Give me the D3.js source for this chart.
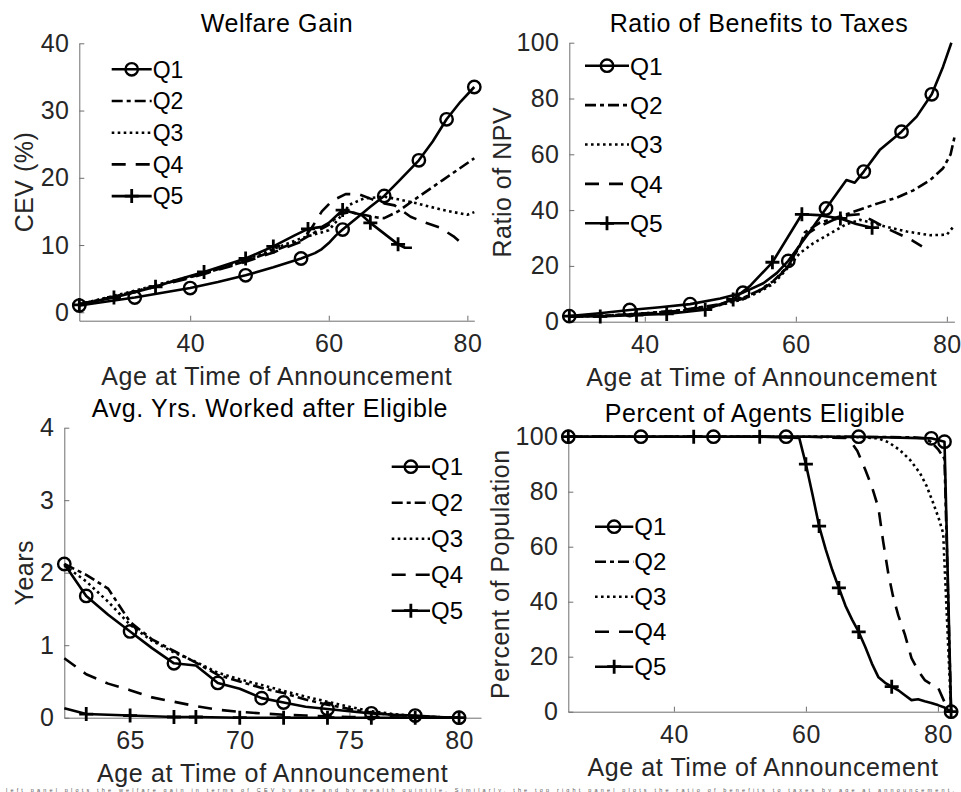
<!DOCTYPE html>
<html lang="en">
<head>
<meta charset="utf-8">
<title>Welfare gain by quintile</title>
<script src="https://cdn.jsdelivr.net/npm/d3@7"></script>
<style>
  body { margin: 0; background: #fff; }
  svg text { font-family: "Liberation Sans", Arial, sans-serif; }
</style>
</head>
<body>
<svg id="chart" width="961" height="792"></svg>
<script>
// series names, one per wealth quintile
const seriesNames = ["Q1", "Q2", "Q3", "Q4", "Q5"];

// top left: welfare gain, CEV (%)
const welfareQ1 = [[24,1.0],[28,1.6],[32,2.2],[36,2.9],[40,3.6],[44,4.5],[48,5.5],[52,6.7],[56,8.0],[58,8.8],[59,9.4],[60,10.3],[61,11.4],[62,12.3],[64,14.0],[66,15.7],[68,17.3],[70,19.4],[73,22.6],[75,25.4],[77,28.7],[79,31.3],[81,33.5]];
const welfareQ2 = [[24,1.2],[28,2.1],[32,3.1],[36,4.2],[40,5.2],[44,6.4],[48,7.6],[52,9.1],[56,10.7],[58,11.9],[60,13.0],[61.5,14.6],[63,14.9],[65,14.5],[67,14.1],[68,14.0],[70,15.0],[72.7,17.0],[76.5,19.7],[81,22.9]];
const welfareQ3 = [[24,1.2],[28,2.2],[32,3.2],[36,4.3],[40,5.3],[44,6.5],[48,7.8],[52,9.4],[56,11.0],[58,11.6],[60,12.2],[62,14.6],[63,16.0],[65,16.9],[68,17.2],[70,16.8],[72.7,16.2],[76.5,15.2],[80,14.5],[81,14.9]];
const welfareQ4 = [[24,1.2],[28,2.1],[32,3.0],[36,4.1],[40,5.1],[44,6.3],[48,7.5],[52,8.9],[56,10.5],[57.5,12.5],[59,15.0],[60.5,16.6],[62.5,17.6],[64.5,17.5],[66,16.9],[68,16.2],[69.5,15.9],[71.8,14.2],[74,13.3],[76,12.6],[78,11.3],[79,10.4]];
const welfareQ5 = [[24,1.1],[26.5,1.7],[29,2.2],[32,3.0],[35,3.8],[38,4.8],[42,6.0],[45,7.0],[48,8.0],[50,8.9],[52,9.8],[55,11.4],[57,12.4],[59,12.7],[60,13.3],[62,15.2],[64.7,14.5],[66,13.3],[68,11.7],[70,10.1],[71,9.6],[72,9.6]];
const welfareQ1Marks = [24,32,40,48,56,62,68,73,77,81];
const welfareQ5Marks = [24,29,35,42,48,52,57,62,66,70];

// top right: ratio of NPV of benefits to taxes
const ratioQ1 = [[30,2.0],[34,3.0],[38,4.2],[42,5.2],[46,6.3],[50,8.3],[53,10.4],[55.7,13.8],[57.5,17.5],[59,21.8],[61.7,31.7],[64,40.6],[66.7,50.8],[67.8,49.8],[69,53.8],[71.1,61.5],[74,68.1],[76,73.5],[78,81.5],[79.5,91.4],[80.6,100]];
const ratioQ2 = [[30,1.8],[35,2.2],[40,3.0],[45,4.2],[50,6.3],[53,8.5],[55,11.0],[57,14.5],[59,20.0],[60.5,27.0],[61.2,32.0],[63.2,35.5],[66.7,38.5],[68.9,40.6],[71,42.5],[73.4,44.5],[75.5,47.0],[77.8,50.8],[79.5,55.0],[80.5,60.0],[81,66.0]];
const ratioQ3 = [[30,1.8],[35,2.2],[40,3.0],[45,4.0],[50,6.0],[53,8.0],[55,10.5],[57,13.5],[59,19.5],[60.5,24.5],[62.3,28.1],[64.5,31.5],[66.7,35.0],[68.5,36.5],[70,35.5],[72,34.0],[74.7,32.3],[77.8,31.0],[80,31.2],[81,34.5]];
const ratioQ4 = [[30,1.8],[35,2.1],[40,2.9],[45,4.0],[50,6.1],[53,8.2],[55,10.8],[57,14.2],[59,19.8],[60.5,27.5],[61.5,31.5],[63,34.0],[65,36.5],[67,38.2],[68.5,38.5],[70,36.5],[72,33.5],[74,31.0],[75.5,29.0],[76.7,27.0]];
const ratioQ5 = [[30,2.0],[34.1,1.9],[38.9,2.4],[42.9,2.8],[48,4.3],[51.7,8.0],[54,13.0],[56.9,21.3],[60.8,38.5],[63,38.2],[65.9,37.0],[68,35.0],[70.1,33.7]];
const ratioQ1Marks = [30,38,46,53,59,64,69,74,78];
const ratioQ5Marks = [30,34.1,38.9,42.9,48,51.7,56.9,60.8,65.9,70.1];

// bottom left: average years worked after eligible
const yearsQ1 = [[62,2.12],[63,1.68],[64,1.42],[65,1.19],[66,0.96],[67,0.75],[68,0.72],[69,0.48],[70,0.40],[71,0.27],[72,0.21],[73,0.15],[74,0.12],[75,0.09],[76,0.06],[77,0.04],[78,0.03],[79,0.01],[80,0.0]];
const yearsQ2 = [[62,2.12],[63,1.97],[64,1.78],[65,1.32],[66,1.08],[67,0.92],[68,0.76],[69,0.59],[70,0.5],[71,0.41],[72,0.34],[73,0.25],[74,0.18],[75,0.12],[76,0.07],[77,0.04],[78,0.02],[79,0.01],[80,0.0]];
const yearsQ3 = [[62,2.1],[63,1.88],[64,1.6],[65,1.28],[66,1.06],[67,0.9],[68,0.77],[69,0.62],[70,0.53],[71,0.45],[72,0.37],[73,0.29],[74,0.22],[75,0.15],[76,0.09],[77,0.05],[78,0.02],[79,0.01],[80,0.0]];
const yearsQ4 = [[62,0.82],[63,0.6],[64,0.47],[65,0.38],[66,0.28],[67,0.22],[68,0.16],[69,0.11],[70,0.08],[71,0.06],[72,0.04],[73,0.03],[74,0.02],[75,0.01],[76,0.01],[78,0.0],[80,0.0]];
const yearsQ5 = [[62,0.13],[63,0.05],[65,0.03],[67,0.01],[68,0.01],[70,0.0],[72,0.0],[74,0.0],[76,0.0],[78,0.0],[80,0.0]];
const yearsQ1Marks = [62,63,65,67,69,71,72,74,76,78,80];
const yearsQ5Marks = [63,65,67,68,70,72,74,76,78,80];

// bottom right: percent of agents eligible
const eligQ1 = [[24,100],[35,100],[46,100],[57,100],[68,100],[79,99.4],[81,98.2],[82,0]];
const eligQ2 = [[24,100],[60,100],[70,99.9],[76,99.8],[78,99.4],[79,98],[80,95.5],[81,92],[82,0]];
const eligQ3 = [[24,100],[60,100],[68,99.8],[71,99.4],[72.5,98],[74.2,95.2],[75.8,91.5],[77.3,86.7],[78.3,82],[79.3,75.8],[80.1,70.5],[80.8,64.9],[82,0]];
const eligQ4 = [[24,100],[60,100],[66,99.5],[67,97.5],[67.8,94.8],[69,88],[70,81.8],[71,74],[71.7,62],[72.5,50],[73.2,42],[74,35],[75,28],[76,19.5],[77,15],[78,11.5],[79,10.0],[80,8.9],[81,3.5],[82,0]];
const eligQ5 = [[24,100],[43,100],[53,100],[59,99.5],[60,90],[61,79],[62,67.5],[63,59],[64,51.5],[65,45],[66,38.5],[67,33.5],[68,29],[69,23.5],[70,17.5],[71,12.5],[72,10.5],[73,9.1],[74,7.8],[75,6.0],[76,4.2],[77,4.5],[78,3.8],[79,3.2],[80,2.4],[81,1.5],[82,0]];
const eligQ1Marks = [24,35,46,57,68,79,81,82];
const eligQ5Marks = [24,43,53,60,62,65,68,73,82];

// tick values
const ageTicksWide = [40, 60, 80];
const ageTicksLate = [65, 70, 75, 80];
const cevTicks = [0, 10, 20, 30, 40];
const pctTicks = [0, 20, 40, 60, 80, 100];
const yearTicks = [0, 1, 2, 3, 4];

// line styles per quintile
const dashes = [null, "11,4,4,4", "2.6,3.4", "14,10", null];
const markerKinds = ["circle", null, null, null, "plus"];

const panels = [
  {
    title: "Welfare Gain", yLabel: "CEV (%)",
    series: [welfareQ1, welfareQ2, welfareQ3, welfareQ4, welfareQ5],
    marks: [welfareQ1Marks, null, null, null, welfareQ5Marks],
    xDomain: [24, 81], yDomain: [-1.25, 40], xTicks: ageTicksWide, yTicks: cevTicks,
    left: 79.3, right: 474.3, top: 43.3, bottom: 320.7,
    titleX: 277, titleY: 32, yLabelX: 33, legend: { x1: 111.7, x2: 151.7, y0: 69.3, step: 31.7, fs: 23 }
  },
  {
    title: "Ratio of Benefits to Taxes", yLabel: "Ratio of NPV",
    series: [ratioQ1, ratioQ2, ratioQ3, ratioQ4, ratioQ5],
    marks: [ratioQ1Marks, null, null, null, ratioQ5Marks],
    xDomain: [30, 81], yDomain: [0, 100], xTicks: ageTicksWide, yTicks: pctTicks,
    left: 569.3, right: 954.4, top: 42.7, bottom: 321.7,
    titleX: 759, titleY: 31.5, yLabelX: 511, legend: { x1: 585, x2: 629, y0: 65.7, step: 39.4, fs: 24.5 }
  },
  {
    title: "Avg. Yrs. Worked after Eligible", yLabel: "Years",
    series: [yearsQ1, yearsQ2, yearsQ3, yearsQ4, yearsQ5],
    marks: [yearsQ1Marks, null, null, null, yearsQ5Marks],
    xDomain: [62, 81], yDomain: [0, 4], xTicks: ageTicksLate, yTicks: yearTicks,
    left: 64.3, right: 481, top: 427.7, bottom: 717.7,
    titleX: 270, titleY: 416.5, yLabelX: 33.3, legend: { x1: 391.7, x2: 430, y0: 466.7, step: 36, fs: 24 }
  },
  {
    title: "Percent of Agents Eligible", yLabel: "Percent of Population",
    series: [eligQ1, eligQ2, eligQ3, eligQ4, eligQ5],
    marks: [eligQ1Marks, null, null, null, eligQ5Marks],
    xDomain: [24, 83], yDomain: [0, 100], xTicks: ageTicksWide, yTicks: pctTicks,
    left: 568.3, right: 957.7, top: 436.7, bottom: 711.7,
    titleX: 755, titleY: 421.5, yLabelX: 509, legend: { x1: 595, x2: 633.3, y0: 526.7, step: 35, fs: 24 }
  }
];

const svg = d3.select("#chart");
svg.append("rect").attr("width", 961).attr("height", 792).attr("fill", "#fff");

const FS = 25;
const LW = 2.6;
const textColor = "#262626";

function drawMarker(g, kind, cx, cy) {
  if (kind === "circle") {
    g.append("circle").attr("cx", cx).attr("cy", cy).attr("r", 6.2)
      .attr("fill", "none").attr("stroke", "#000").attr("stroke-width", 2.4);
  } else if (kind === "plus") {
    g.append("path")
      .attr("d", `M${cx - 7},${cy}H${cx + 7}M${cx},${cy - 7}V${cy + 7}`)
      .attr("stroke", "#000").attr("stroke-width", 2.8);
  }
}

function styleAxis(g) {
  g.attr("font-size", null).attr("font-family", null);
  g.select(".domain").attr("stroke", "#6e6e6e").attr("stroke-width", 1);
  g.selectAll(".tick line").attr("stroke", "#6e6e6e").attr("stroke-width", 1);
  g.selectAll(".tick text").attr("fill", textColor).attr("font-size", FS)
    .style("letter-spacing", "0.4px");
}

panels.forEach(p => {
  const x = d3.scaleLinear().domain(p.xDomain).range([p.left, p.right]);
  const y = d3.scaleLinear().domain(p.yDomain).range([p.bottom, p.top]);

  svg.append("g")
    .attr("transform", `translate(0,${p.bottom})`)
    .call(d3.axisBottom(x).tickValues(p.xTicks).tickFormat(d3.format("d"))
      .tickSizeInner(-5).tickSizeOuter(0).tickPadding(13.5))
    .call(styleAxis);

  svg.append("g")
    .attr("transform", `translate(${p.left},0)`)
    .call(d3.axisLeft(y).tickValues(p.yTicks).tickFormat(d3.format("d"))
      .tickSizeInner(-5).tickSizeOuter(0).tickPadding(10))
    .call(styleAxis);

  // title and axis labels
  svg.append("text")
    .attr("x", p.titleX).attr("y", p.titleY)
    .attr("text-anchor", "middle").attr("font-size", FS).attr("fill", "#000")
    .style("letter-spacing", "0.6px")
    .text(p.title);

  svg.append("text")
    .attr("x", (p.left + p.right) / 2).attr("y", p.bottom + 64)
    .attr("text-anchor", "middle").attr("font-size", FS).attr("fill", textColor)
    .style("letter-spacing", "0.6px")
    .text("Age at Time of Announcement");

  svg.append("text")
    .attr("transform", `translate(${p.yLabelX},${(p.top + p.bottom) / 2}) rotate(-90)`)
    .attr("text-anchor", "middle").attr("font-size", FS).attr("fill", textColor)
    .style("letter-spacing", "0.5px")
    .text(p.yLabel);

  // data lines
  const line = d3.line().x(d => x(d[0])).y(d => y(d[1]));
  const plot = svg.append("g");
  p.series.forEach((data, i) => {
    plot.append("path")
      .datum(data)
      .attr("d", line)
      .attr("fill", "none")
      .attr("stroke", "#000")
      .attr("stroke-width", LW)
      .attr("stroke-linejoin", "round")
      .attr("stroke-dasharray", dashes[i]);
    const marks = p.marks[i];
    if (marks) {
      data.filter(d => marks.includes(d[0]))
        .forEach(d => drawMarker(plot, markerKinds[i], x(d[0]), y(d[1])));
    }
  });

  // legend
  const lg = p.legend;
  seriesNames.forEach((name, i) => {
    const ly = lg.y0 + i * lg.step;
    svg.append("line")
      .attr("x1", lg.x1).attr("x2", lg.x2).attr("y1", ly).attr("y2", ly)
      .attr("stroke", "#000").attr("stroke-width", LW)
      .attr("stroke-dasharray", dashes[i]);
    if (markerKinds[i]) drawMarker(svg, markerKinds[i], (lg.x1 + lg.x2) / 2, ly);
    svg.append("text")
      .attr("x", lg.x2 + 1).attr("y", ly + lg.fs * 0.36)
      .attr("font-size", lg.fs).attr("fill", "#000")
      .text(name);
  });
});

// caption line at the bottom edge
svg.append("text")
  .attr("x", 6).attr("y", 791.5)
  .attr("font-family", "Liberation Serif, serif")
  .attr("font-size", 5.5).attr("fill", "#555")
  .attr("textLength", 948).attr("lengthAdjust", "spacing")
  .text("left panel plots the welfare gain in terms of CEV by age and by wealth quintile. Similarly, the top right panel plots the ratio of benefits to taxes by age at announcement.");
</script>
</body>
</html>
